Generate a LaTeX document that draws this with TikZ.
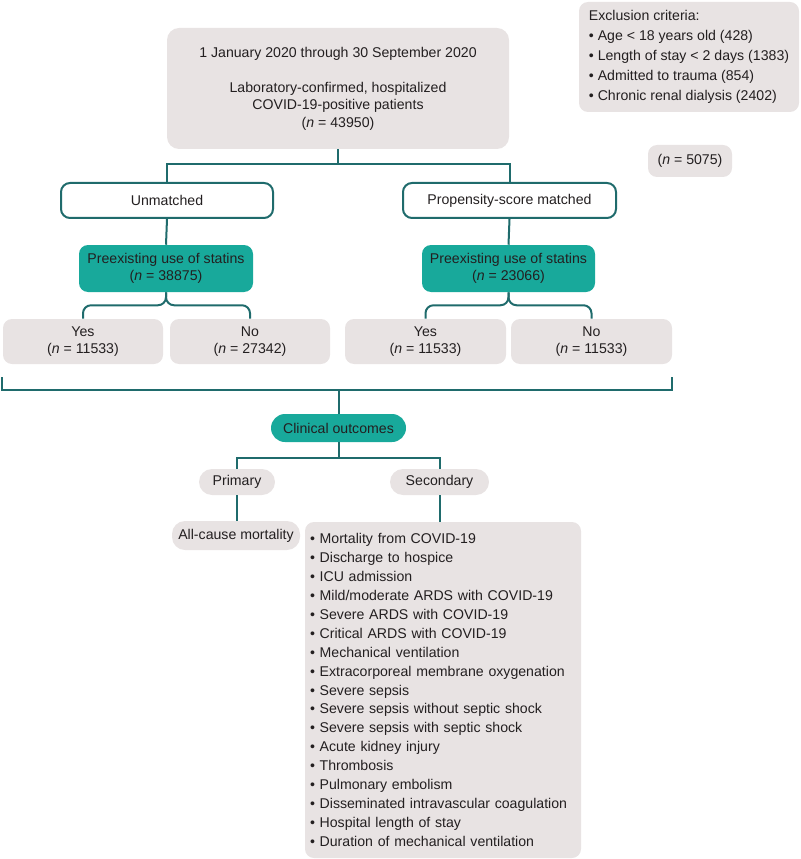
\documentclass[tikz,border=0pt]{standalone}
\usepackage{fontspec}
\setmainfont{Liberation Sans}
\usetikzlibrary{calc}

\newlength{\du}
\setlength{\du}{0.75pt}

\definecolor{boxgrey}{HTML}{E8E3E3}
\definecolor{statteal}{HTML}{18A99B}
\definecolor{linkteal}{HTML}{1F6B6C}
\definecolor{inkdark}{HTML}{231F20}

\newcommand{\flowfont}{\fontsize{10.6}{13.1}\selectfont}
\newcommand{\nn}{\textit{n}}

\tikzset{
  greybox/.style={fill=boxgrey, rounded corners=9\du, inner sep=0pt, align=center, font=\flowfont, text=inkdark},
  tealbox/.style={fill=statteal, rounded corners=9\du, inner sep=0pt, align=center, font=\flowfont, text=inkdark},
  wirebox/.style={draw=linkteal, line width=2\du, fill=white, rounded corners=9\du, inner sep=0pt, align=center, font=\flowfont, text=inkdark},
  teallink/.style={draw=linkteal, line width=2\du},
}

\begin{document}
\begin{tikzpicture}
\pgftransformxscale{1.000000}
\pgftransformyscale{-1.000000}
\useasboundingbox (0\du,0\du) rectangle (800\du,859\du);

% cohort and exclusions
\node[greybox, minimum width=342\du, minimum height=121\du, rounded corners=12\du] (cohort) at (338\du,88.5\du)
  {1 January 2020 through 30 September 2020\\[13.1pt]Laboratory-confirmed, hospitalized\\COVID-19-positive patients\\(\nn{} = 43950)};
\node[greybox, minimum width=220\du, minimum height=110\du, align=left, font=\fontsize{10.6}{15}\selectfont] (exclude) at (689\du,57\du)
  {Exclusion criteria:\\• Age < 18 years old (428)\\• Length of stay < 2 days (1383)\\• Admitted to trauma (854)\\• Chronic renal dialysis (2402)};
\node[greybox, minimum width=84\du, minimum height=32\du] (excluden) at (690\du,161\du) {(\nn{} = 5075)};

% the two arms
\node[wirebox, minimum width=212\du, minimum height=35\du] (unmatched) at (167\du,200.5\du) {Unmatched};
\node[wirebox, minimum width=213\du, minimum height=35\du] (psmatched) at (509.5\du,200.5\du) {Propensity-score matched};
\node[tealbox, minimum width=174\du, minimum height=47\du] (statinsU) at (166\du,268.5\du) {Preexisting use of statins\\(\nn{} = 38875)};
\node[tealbox, minimum width=173\du, minimum height=47\du] (statinsM) at (508.5\du,268.5\du) {Preexisting use of statins\\(\nn{} = 23066)};
\node[greybox, minimum width=160\du, minimum height=45\du] (yesU) at (83\du,341.5\du) {Yes\\(\nn{} = 11533)};
\node[greybox, minimum width=160\du, minimum height=45\du] (noU) at (250\du,341.5\du) {No\\(\nn{} = 27342)};
\node[greybox, minimum width=161\du, minimum height=45\du] (yesM) at (425.5\du,341.5\du) {Yes\\(\nn{} = 11533)};
\node[greybox, minimum width=161\du, minimum height=45\du] (noM) at (591.5\du,341.5\du) {No\\(\nn{} = 11533)};

% outcomes
\node[tealbox, minimum width=135\du, minimum height=28\du, rounded corners=14\du] (outcomes) at (338.5\du,428\du) {Clinical outcomes};
\node[greybox, minimum width=76\du, minimum height=26\du, rounded corners=13\du] (primary) at (237\du,482\du) {Primary};
\node[greybox, minimum width=99\du, minimum height=26\du, rounded corners=13\du] (secondary) at (439.5\du,482\du) {Secondary};
\node[greybox, minimum width=128\du, minimum height=29\du, rounded corners=13\du] (allcause) at (236\du,535.5\du) {All-cause mortality};
\node[greybox, minimum width=276\du, minimum height=336\du, align=left, text width=266\du, font=\fontsize{10.6}{14.2}\selectfont] (seclist) at (443\du,690\du)
  {• Mortality from COVID-19\\• Discharge to hospice\\• ICU admission\\• Mild/moderate ARDS with COVID-19\\• Severe ARDS with COVID-19\\• Critical ARDS with COVID-19\\• Mechanical ventilation\\• Extracorporeal membrane oxygenation\\• Severe sepsis\\• Severe sepsis without septic shock\\• Severe sepsis with septic shock\\• Acute kidney injury\\• Thrombosis\\• Pulmonary embolism\\• Disseminated intravascular coagulation\\• Hospital length of stay\\• Duration of mechanical ventilation};

% connectors
\coordinate (armsplit) at (338\du,164\du);
\draw[teallink] (cohort.south) -- (armsplit) -| (unmatched.north);
\draw[teallink] (armsplit) -| (psmatched.north);
\draw[teallink] (unmatched.south) -- (statinsU.north);
\draw[teallink] (psmatched.south) -- (statinsM.north);
\draw[teallink, rounded corners=8\du] (statinsU.south) -- ++(0,13\du) -| (yesU.north);
\draw[teallink, rounded corners=8\du] (statinsU.south) -- ++(0,13\du) -| (noU.north);
\draw[teallink, rounded corners=8\du] (statinsM.south) -- ++(0,13\du) -| (yesM.north);
\draw[teallink, rounded corners=8\du] (statinsM.south) -- ++(0,13\du) -| (noM.north);
\coordinate (brackL) at (2\du,377\du);
\coordinate (brackR) at (672\du,377\du);
\coordinate (brackM) at (338.5\du,390\du);
\draw[teallink] (brackL) |- (brackM) -| (brackR);
\draw[teallink] (brackM) -- (outcomes.north);
\draw[teallink] (outcomes.south) -- ++(0,16\du) -| (primary.north);
\draw[teallink] (outcomes.south) -- ++(0,16\du) -| (secondary.north);
\draw[teallink] (primary.south) -- (primary.south |- allcause.north);
\draw[teallink] (secondary.south) -- (secondary.south |- seclist.north);
\end{tikzpicture}
\end{document}
